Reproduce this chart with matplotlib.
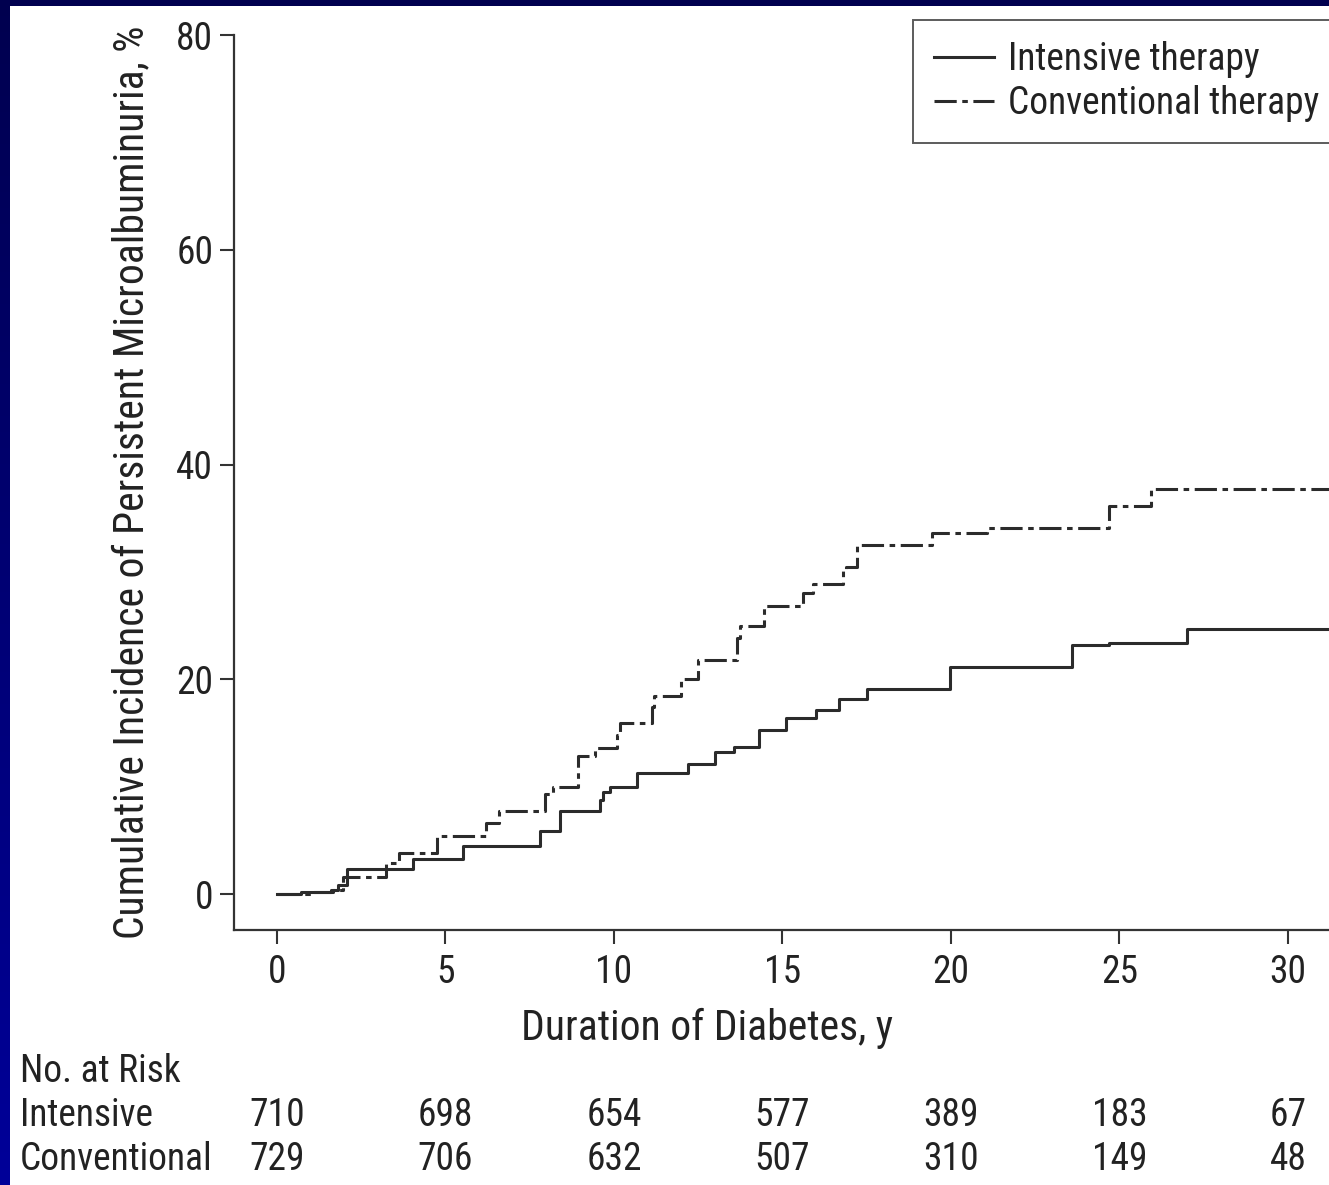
import numpy as np
import matplotlib
matplotlib.use("Agg")
import matplotlib.pyplot as plt
from matplotlib.transforms import blended_transform_factory

plt.rcParams['font.family'] = ['Roboto Condensed', 'Archivo Narrow', 'DejaVu Sans']
plt.rcParams['lines.scale_dashes'] = False

# Kaplan-Meier style cumulative incidence (step times in years, values in %)
intensive_t = [0.0, 0.7, 1.6, 1.8, 2.08, 4.03, 5.53, 7.8, 8.4, 9.58, 9.68, 9.88,
               10.69, 12.2, 13.0, 13.57, 14.3, 15.12, 16.0, 16.69, 17.5, 19.97,
               23.6, 24.7, 27.0]
intensive_v = [0.0, 0.2, 0.4, 0.8, 2.3, 3.3, 4.5, 5.9, 7.7, 8.75, 9.5, 10.0,
               11.3, 12.1, 13.2, 13.7, 15.3, 16.35, 17.1, 18.15, 19.1, 21.1,
               23.2, 23.4, 24.7]

conventional_t = [0.0, 1.0, 1.67, 1.97, 3.23, 3.63, 4.74, 6.2, 6.6, 7.95, 8.2,
                  8.94, 9.44, 10.1, 10.18, 11.12, 11.19, 12.0, 12.5, 13.66,
                  13.74, 14.45, 15.62, 15.9, 16.79, 16.88, 17.22, 19.45, 21.07,
                  24.69, 25.93]
conventional_v = [0.0, 0.2, 0.4, 1.55, 2.9, 3.8, 5.4, 6.6, 7.7, 9.3, 10.0,
                  12.9, 13.6, 14.8, 15.9, 17.4, 18.4, 20.0, 21.8, 23.8,
                  25.0, 26.8, 28.0, 28.9, 30.2, 30.5, 32.5, 33.6, 34.1,
                  36.1, 37.7]

x_ticks = [0, 5, 10, 15, 20, 25, 30]
y_ticks = [0, 20, 40, 60, 80]
risk_intensive = [710, 698, 654, 577, 389, 183, 67]
risk_conventional = [729, 706, 632, 507, 310, 149, 48]

W, H = 1329, 1185
FS = 27
FS_LABEL = 30
TXT = '#222222'
fig = plt.figure(figsize=(W / 100, H / 100), dpi=100, facecolor='white')

# blue slide frame along the left and top edges
left_strip = np.zeros((H, 10, 3))
left_strip[:, :, 2] = np.linspace(0.31, 0.60, H)[:, None]
fig.figimage(left_strip, xo=0, yo=0, origin='upper', zorder=5)
top_strip = np.zeros((6, W, 3))
top_strip[:, :, 2] = 0.31
fig.figimage(top_strip, xo=0, yo=H - 6, origin='upper', zorder=5)

ax_left, ax_bottom = 234 / W, 255 / H
ax = fig.add_axes([ax_left, ax_bottom, 1 - ax_left, (1150 - 255) / H])
ax.set_facecolor('white')

line_col = '#2b2b2b'
x_end = 31.3
ax.step(intensive_t + [x_end], intensive_v + [intensive_v[-1]], where='post',
        color=line_col, lw=2.2, label='Intensive therapy')
ax.step(conventional_t + [x_end], conventional_v + [conventional_v[-1]], where='post',
        color=line_col, lw=2.2, dashes=(16, 4, 4, 4), label='Conventional therapy')

ax.set_xlim(-1.276, 31.22)
ax.set_ylim(-3.35, 80)
ax.set_xticks(x_ticks)
ax.set_yticks(y_ticks)
for s in ('top', 'right'):
    ax.spines[s].set_visible(False)
for s in ('left', 'bottom'):
    ax.spines[s].set_linewidth(1.6)
    ax.spines[s].set_color('#333333')
ax.tick_params(axis='both', direction='out', length=10, width=1.5, colors='#333333',
               labelsize=FS, labelcolor=TXT)
ax.tick_params(axis='x', pad=7)
ax.tick_params(axis='y', pad=5)

ax.set_xlabel('Duration of Diabetes, y', fontsize=FS_LABEL, color=TXT, va='baseline')
ax.xaxis.set_label_coords(0.432, -0.123)
ax.set_ylabel('Cumulative Incidence of Persistent Microalbuminuria, %',
              fontsize=FS_LABEL, color=TXT, va='baseline')
ax.yaxis.set_label_coords(-0.083, 0.5)

leg = ax.legend(loc='upper left', bbox_to_anchor=(913 / W, 1 - 20 / H),
                bbox_transform=fig.transFigure, borderaxespad=0, fontsize=FS,
                fancybox=False, handlelength=1.6, handletextpad=0.38,
                borderpad=0.55, labelspacing=0.2, frameon=True)
leg.get_frame().set_edgecolor('#333333')
leg.get_frame().set_linewidth(1.4)
for t in leg.get_texts():
    t.set_color(TXT)

# number-at-risk table below the axis
tr = blended_transform_factory(ax.transData, fig.transFigure)
for label, ypix in (('No. at Risk', 1072), ('Intensive', 1116), ('Conventional', 1160)):
    fig.text(20 / W, 1 - ypix / H, label, fontsize=FS, color=TXT, ha='left', va='center')
for xt, a, b in zip(x_ticks, risk_intensive, risk_conventional):
    ax.text(xt, 1 - 1116 / H, str(a), transform=tr, fontsize=FS, color=TXT,
            ha='center', va='center', clip_on=False)
    ax.text(xt, 1 - 1160 / H, str(b), transform=tr, fontsize=FS, color=TXT,
            ha='center', va='center', clip_on=False)

fig.savefig('out.png', dpi=100, facecolor='white')
